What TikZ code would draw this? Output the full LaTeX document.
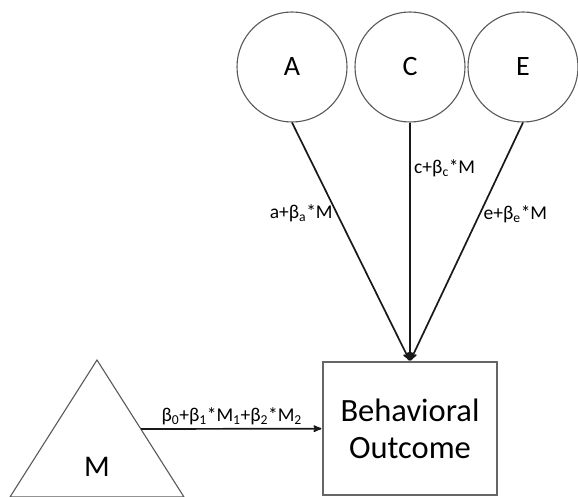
\documentclass[tikz,border=0pt]{standalone}
\usepackage{fontspec}
\setmainfont{Carlito}
\usepackage{tikz}
\usetikzlibrary{arrows}

\begin{document}
\begin{tikzpicture}[->,>=stealth',shorten >=1pt,auto,x=1pt,y=-1pt,
  thick,latent node/.style={circle,draw=black!65,line width=1.1pt,
    minimum size=110pt,inner sep=0pt,font=\fontsize{28}{32}\selectfont},
  outcome node/.style={rectangle,draw=black!60,line width=1.1pt,
    minimum width=174pt,minimum height=133pt,align=center,
    font=\fontsize{32.5}{37}\selectfont},
  path label/.style={font=\fontsize{19.5}{22}\selectfont},
  every edge/.append style={line width=1.7pt,draw=black!90}]

  \useasboundingbox (0,0) rectangle (578,497);

  \node[latent node] (A) at (292,67) {A};
  \node[latent node] (C) at (410,67) {C};
  \node[latent node] (E) at (523,67) {E};
  \node[outcome node] (out) at (410,428.5) {Behavioral\\Outcome};

  % moderator
  \coordinate (mtop) at (97,360);
  \coordinate (mleft) at (10,497);
  \coordinate (mright) at (184,497);
  \draw[-,draw=black!65,line width=1.1pt] (mtop) -- (mright) -- (mleft) -- cycle;
  \node[font=\fontsize{30}{32}\selectfont] (M) at (97,467) {M};
  \coordinate (mout) at (141,429);

  \path[every node/.style={path label}]
    (A.south) edge node [left,pos=0.38] {a+β\textsubscript{a}*M} (out.north)
    (C.south) edge node [right,pos=0.19] {c+β\textsubscript{c}*M} (out.north)
    (E.south) edge node [right,pos=0.385] {e+β\textsubscript{e}*M} (out.north)
    (mout) edge node [above] {β\textsubscript{0}+β\textsubscript{1}*M\textsubscript{1}+β\textsubscript{2}*M\textsubscript{2}} (out);

\end{tikzpicture}
\end{document}
